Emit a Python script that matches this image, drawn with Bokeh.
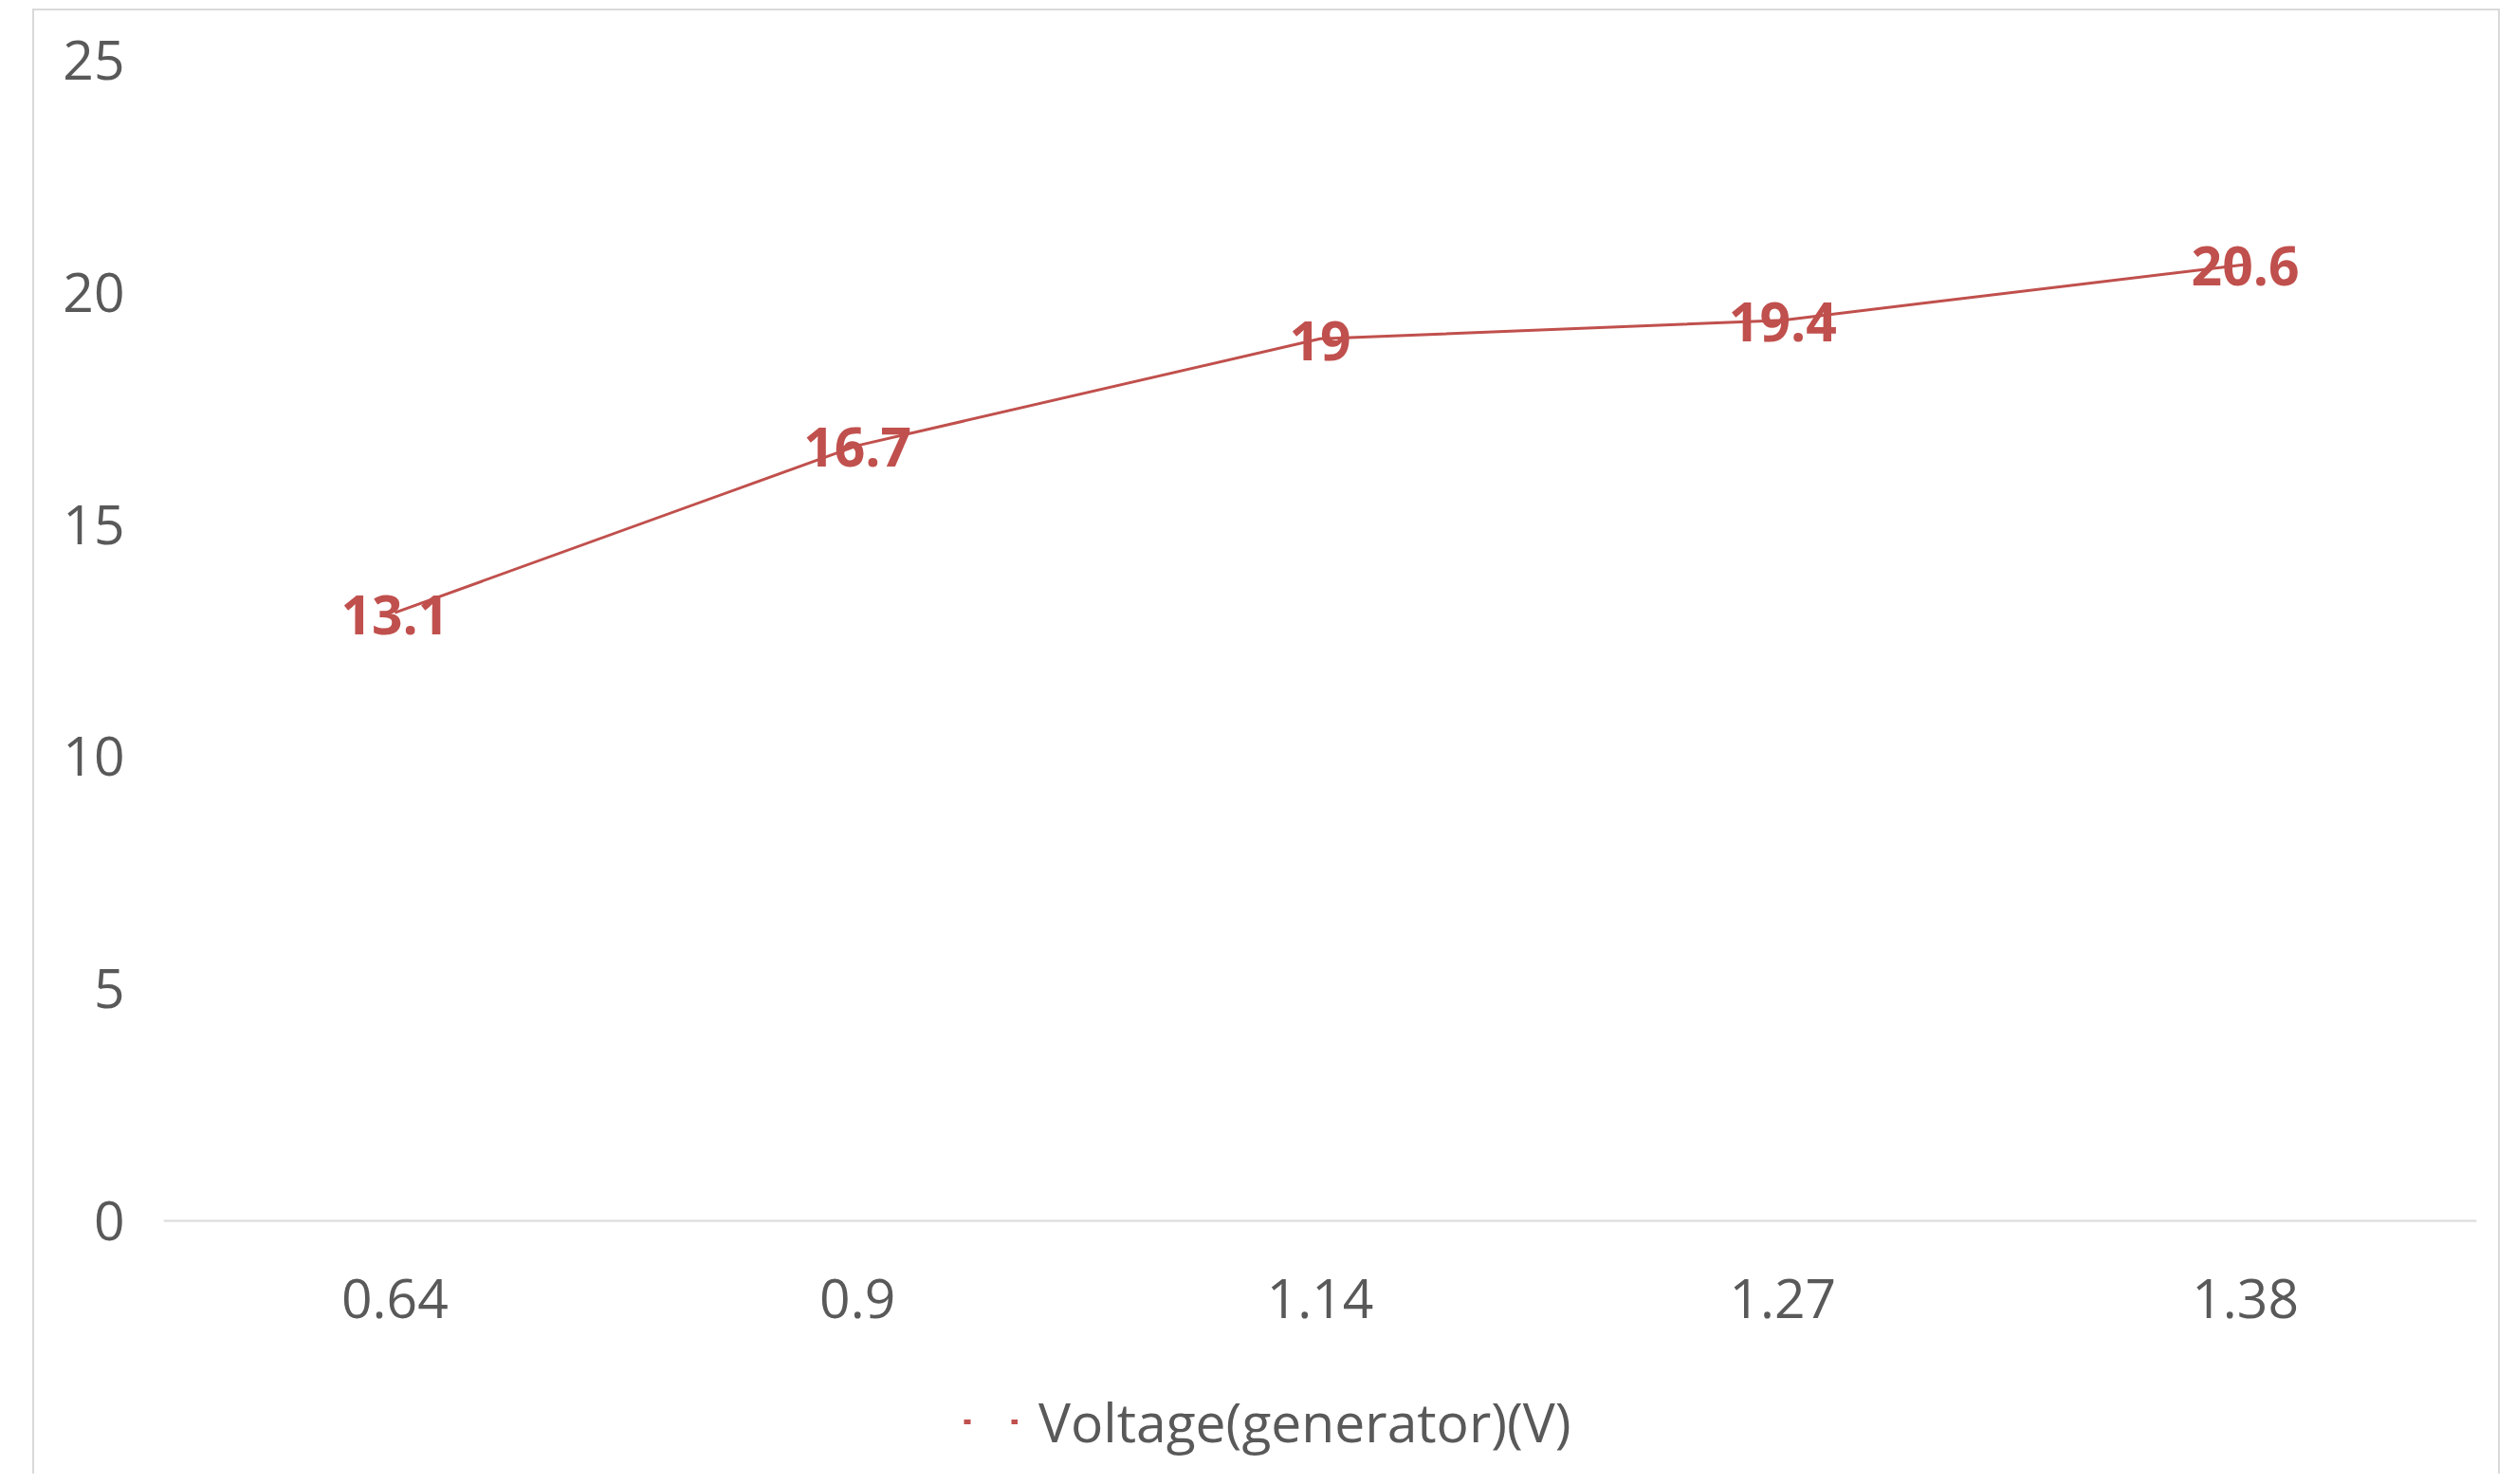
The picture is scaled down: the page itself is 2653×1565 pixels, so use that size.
from bokeh.plotting import figure
from bokeh.models import ColumnDataSource, FixedTicker, Legend, LegendItem, Range1d, FactorRange
from bokeh.core.properties import value
from bokeh.embed import file_html
from bokeh.resources import INLINE

# ---- data ----
categories = ["0.64", "0.9", "1.14", "1.27", "1.38"]
voltage = [13.1, 16.7, 19, 19.4, 20.6]
value_labels = ["13.1", "16.7", "19", "19.4", "20.6"]
y_ticks = [0, 5, 10, 15, 20, 25]
series_name = "Voltage(generator)(V)"

RED = "#C0504D"
GREY_TXT = "#595959"
GREY_LINE = "#D9D9D9"
FONT = "Open Sans"
FS = "57px"

# layout (pixels inside the figure)
W, H = 2602, 1545
TOP, BOTTOM_BORDER = 52, 10
AXIS_Y = 1276          # where value 0 sits
Y_MAX = 25
frame_bottom = H - BOTTOM_BORDER
px_per_unit = (AXIS_Y - TOP) / Y_MAX
y_start = -(frame_bottom - AXIS_Y) / px_per_unit

src = ColumnDataSource(dict(x=categories, y=voltage, lab=value_labels))

p = figure(
    x_range=FactorRange(*categories, range_padding=0),
    y_range=Range1d(y_start, Y_MAX),
    width=W, height=H,
    output_backend="svg", toolbar_location=None,
    min_border_left=136, min_border_right=27, min_border_top=TOP, min_border_bottom=BOTTOM_BORDER,
)
p.styles = {
    "border-top": "2px solid #D9D9D9",
    "border-left": "2px solid #D9D9D9",
    "border-right": "2px solid #D9D9D9",
    "margin-left": "34px",
    "margin-top": "9px",
}
p.background_fill_color = "white"
p.border_fill_color = "white"
p.outline_line_color = None
p.xgrid.grid_line_color = None
p.ygrid.grid_line_color = None

# legend renderer: dashed copy of the series, hidden in the plot, used for the legend key
leg_r = p.line("x", "y", source=src, line_color=RED, line_width=5, line_dash="7 43")
leg_r.visible = False
line = p.line("x", "y", source=src, line_color=RED, line_width=3)
p.text("x", "y", text="lab", source=src, text_color=RED, text_font=value(FONT),
       text_font_size=FS, text_font_style="bold", text_align="center",
       text_baseline="middle", y_offset=2)

legend = Legend(items=[LegendItem(label=series_name, renderers=[leg_r])],
                location=(844, 8), orientation="horizontal")
legend.glyph_width = 57
legend.glyph_height = 20
legend.label_standoff = 22
legend.padding = 0
legend.margin = 0
legend.spacing = 0
legend.border_line_color = None
legend.background_fill_alpha = 0
legend.inactive_fill_alpha = 0
legend.label_text_font = FONT
legend.label_text_font_size = FS
legend.label_text_color = GREY_TXT
p.add_layout(legend, "center")

# axes
p.yaxis.ticker = FixedTicker(ticks=y_ticks)
p.yaxis.axis_line_color = None
p.yaxis.major_tick_line_color = None
p.yaxis.minor_tick_line_color = None
p.yaxis.major_label_standoff = 35
p.yaxis.major_label_text_font = FONT
p.yaxis.major_label_text_font_size = FS
p.yaxis.major_label_text_color = GREY_TXT

p.xaxis.fixed_location = 0
p.xaxis.axis_line_color = GREY_LINE
p.xaxis.axis_line_width = 2
p.xaxis.major_tick_line_color = None
p.xaxis.minor_tick_line_color = None
p.xaxis.major_label_standoff = 55
p.xaxis.major_label_text_font = FONT
p.xaxis.major_label_text_font_size = FS
p.xaxis.major_label_text_color = GREY_TXT

open("out.html", "w").write(file_html(p, INLINE))
